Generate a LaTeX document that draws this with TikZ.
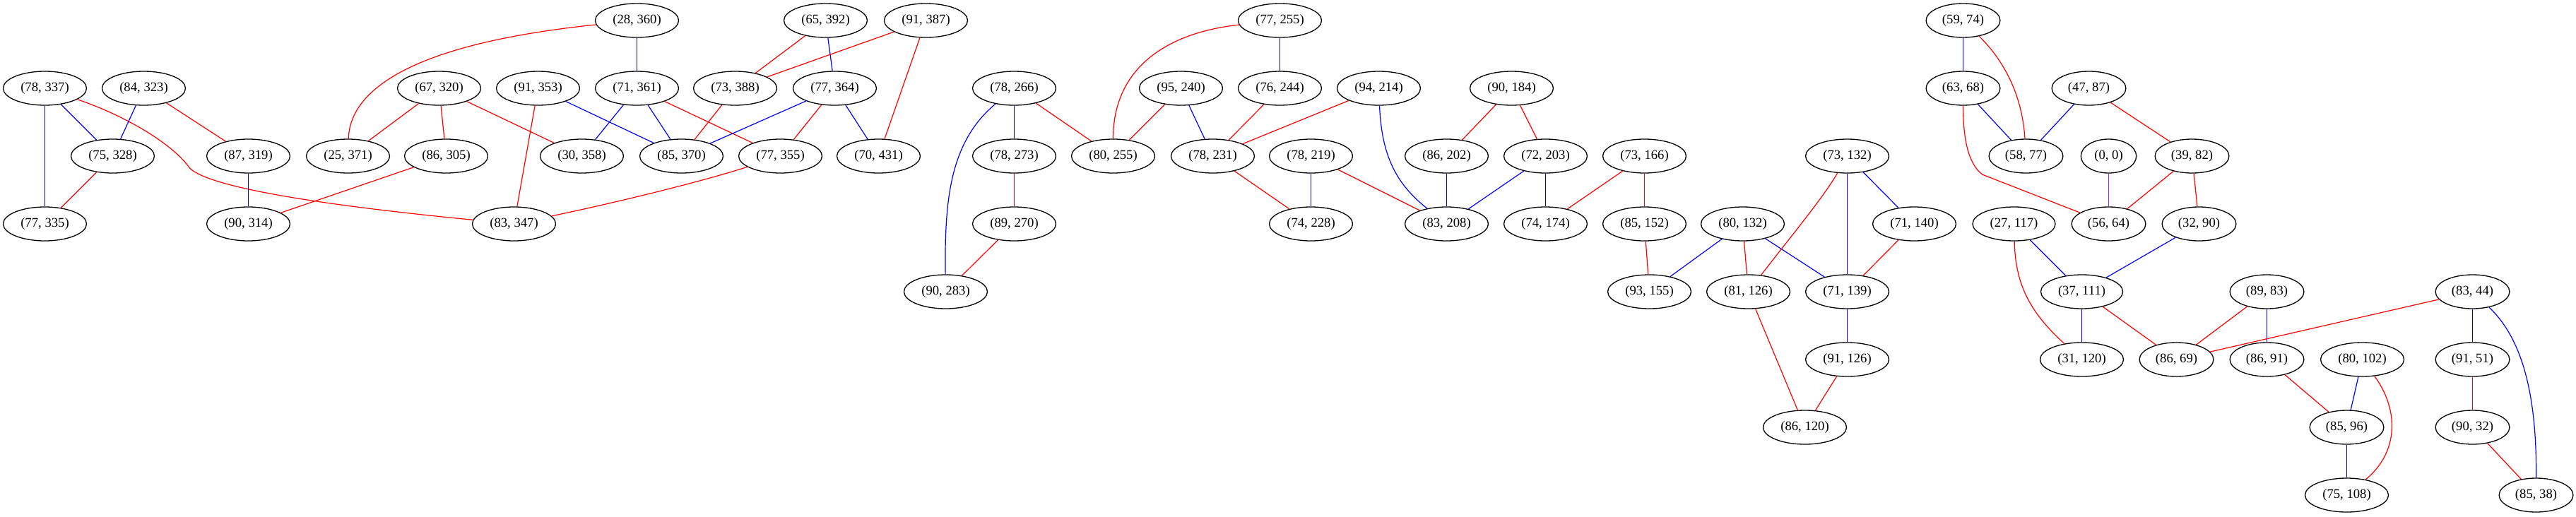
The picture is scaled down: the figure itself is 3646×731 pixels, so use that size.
\documentclass[tikz,border=0pt]{standalone}
\usepackage{fontspec}
\setmainfont{Liberation Serif}
\usetikzlibrary{shapes.geometric}
\definecolor{gvpurple}{RGB}{160,32,240}
\tikzset{
  nd/.style={ellipse, draw, line width=1.3pt, minimum height=48pt, inner xsep=7.5pt, inner ysep=0pt, font=\fontsize{18.67}{22}\selectfont},
  er/.style={draw=red, line width=1.2pt},
  eb/.style={draw=blue, line width=1.2pt},
  ep/.style={draw=gvpurple, line width=1.2pt}
}
\begin{document}
\begin{tikzpicture}[x=1pt,y=-1pt]
\useasboundingbox (0,0) rectangle (3646,731);
\begin{scope}[shift={(0.5,0)}]
% nodes
\node[nd] (n78337) at (63,125) {(78, 337)};
\node[nd] (n84323) at (203,125) {(84, 323)};
\node[nd] (n75328) at (159,221) {(75, 328)};
\node[nd] (n87319) at (351,221) {(87, 319)};
\node[nd] (n25371) at (492,221) {(25, 371)};
\node[nd] (n77335) at (63,317) {(77, 335)};
\node[nd] (n90314) at (351,317) {(90, 314)};
\node[nd] (n28360) at (901,29) {(28, 360)};
\node[nd] (n65392) at (1168,29) {(65, 392)};
\node[nd] (n67320) at (621,125) {(67, 320)};
\node[nd] (n91353) at (761,125) {(91, 353)};
\node[nd] (n71361) at (901,125) {(71, 361)};
\node[nd] (n73388) at (1040,125) {(73, 388)};
\node[nd] (n77364) at (1181,125) {(77, 364)};
\node[nd] (n86305) at (631,221) {(86, 305)};
\node[nd] (n30358) at (823,221) {(30, 358)};
\node[nd] (n85370) at (964,221) {(85, 370)};
\node[nd] (n77355) at (1104,221) {(77, 355)};
\node[nd] (n83347) at (727,317) {(83, 347)};
\node[nd] (n91387) at (1310,29) {(91, 387)};
\node[nd] (n70431) at (1243,221) {(70, 431)};
\node[nd] (n78266) at (1435,125) {(78, 266)};
\node[nd] (n78273) at (1435,221) {(78, 273)};
\node[nd] (n89270) at (1435,317) {(89, 270)};
\node[nd] (n90283) at (1338,413) {(90, 283)};
\node[nd] (n80255) at (1575,221) {(80, 255)};
\node[nd] (n95240) at (1671,125) {(95, 240)};
\node[nd] (n78231) at (1716,221) {(78, 231)};
\node[nd] (n77255) at (1811,29) {(77, 255)};
\node[nd] (n76244) at (1811,125) {(76, 244)};
\node[nd] (n94214) at (1951,125) {(94, 214)};
\node[nd] (n90184) at (2139,125) {(90, 184)};
\node[nd] (n78219) at (1855,221) {(78, 219)};
\node[nd] (n86202) at (2047,221) {(86, 202)};
\node[nd] (n72203) at (2187,221) {(72, 203)};
\node[nd] (n73166) at (2327,221) {(73, 166)};
\node[nd] (n74228) at (1855,317) {(74, 228)};
\node[nd] (n83208) at (2047,317) {(83, 208)};
\node[nd] (n74174) at (2187,317) {(74, 174)};
\node[nd] (n85152) at (2327,317) {(85, 152)};
\node[nd] (n5974) at (2778,29) {(59, 74)};
\node[nd] (n6368) at (2778,125) {(63, 68)};
\node[nd] (n4787) at (2956,125) {(47, 87)};
\node[nd] (n5877) at (2867,221) {(58, 77)};
\node[nd] (n00) at (2984,221) {(0, 0)};
\node[nd] (n73132) at (2614,221) {(73, 132)};
\node[nd] (n80132) at (2466,317) {(80, 132)};
\node[nd] (n71140) at (2709,317) {(71, 140)};
\node[nd] (n27117) at (2850,317) {(27, 117)};
\node[nd] (n5664) at (2984,317) {(56, 64)};
\node[nd] (n3982) at (3102,221) {(39, 82)};
\node[nd] (n3290) at (3112,317) {(32, 90)};
\node[nd] (n93155) at (2334,413) {(93, 155)};
\node[nd] (n81126) at (2474,413) {(81, 126)};
\node[nd] (n71139) at (2614,413) {(71, 139)};
\node[nd] (n37111) at (2946,413) {(37, 111)};
\node[nd] (n91126) at (2614,509) {(91, 126)};
\node[nd] (n31120) at (2946,509) {(31, 120)};
\node[nd] (n86120) at (2554,605) {(86, 120)};
\node[nd] (n8983) at (3208,413) {(89, 83)};
\node[nd] (n8344) at (3499,413) {(83, 44)};
\node[nd] (n8669) at (3080,509) {(86, 69)};
\node[nd] (n8691) at (3208,509) {(86, 91)};
\node[nd] (n80102) at (3343,509) {(80, 102)};
\node[nd] (n9151) at (3499,509) {(91, 51)};
\node[nd] (n8596) at (3321,605) {(85, 96)};
\node[nd] (n9032) at (3499,605) {(90, 32)};
\node[nd] (n75108) at (3321,701) {(75, 108)};
\node[nd] (n8538) at (3589,701) {(85, 38)};
% edges
\draw[eb] (n78337) -- (n75328);
\draw[eb] (n78337) -- (n77335);
\draw[er] (n78337) .. controls (180,165) and (245,205) .. (268,238) .. controls (295,265) and (450,290) .. (n83347);
\draw[eb] (n84323) -- (n75328);
\draw[er] (n84323) -- (n87319);
\draw[er] (n75328) -- (n77335);
\draw[eb] (n87319) -- (n90314);
\draw[er] (n86305) -- (n90314);
\draw[er] (n67320) -- (n25371);
\draw[er] (n28360) .. controls (600,60) and (495,120) .. (n25371);
\draw[er] (n67320) -- (n86305);
\draw[er] (n67320) -- (n30358);
\draw[eb] (n91353) -- (n85370);
\draw[er] (n91353) -- (n83347);
\draw[eb] (n28360) -- (n71361);
\draw[eb] (n71361) -- (n30358);
\draw[eb] (n71361) -- (n85370);
\draw[er] (n71361) -- (n77355);
\draw[er] (n73388) -- (n85370);
\draw[er] (n65392) -- (n73388);
\draw[eb] (n65392) -- (n77364);
\draw[er] (n91387) -- (n73388);
\draw[eb] (n77364) -- (n85370);
\draw[er] (n77364) -- (n77355);
\draw[eb] (n77364) -- (n70431);
\draw[er] (n91387) -- (n70431);
\draw[er] (n77355) .. controls (1000,255) and (880,285) .. (n83347);
\draw[eb] (n78266) -- (n78273);
\draw[er] (n78266) -- (n80255);
\draw[eb] (n78266) .. controls (1345,200) and (1336,280) .. (n90283);
\draw[er] (n78273) -- (n89270);
\draw[er] (n89270) -- (n90283);
\draw[er] (n77255) .. controls (1660,45) and (1575,90) .. (n80255);
\draw[er] (n95240) -- (n80255);
\draw[eb] (n95240) -- (n78231);
\draw[eb] (n77255) -- (n76244);
\draw[er] (n76244) -- (n78231);
\draw[er] (n94214) -- (n78231);
\draw[er] (n78231) -- (n74228);
\draw[eb] (n94214) .. controls (1955,220) and (1975,260) .. (n83208);
\draw[eb] (n78219) -- (n74228);
\draw[er] (n78219) -- (n83208);
\draw[er] (n90184) -- (n86202);
\draw[er] (n90184) -- (n72203);
\draw[eb] (n86202) -- (n83208);
\draw[eb] (n72203) -- (n83208);
\draw[eb] (n72203) -- (n74174);
\draw[er] (n73166) -- (n74174);
\draw[er] (n73166) -- (n85152);
\draw[er] (n85152) -- (n93155);
\draw[eb] (n80132) -- (n93155);
\draw[er] (n80132) -- (n81126);
\draw[eb] (n80132) -- (n71139);
\draw[er] (n73132) .. controls (2580,280) and (2530,340) .. (n81126);
\draw[eb] (n73132) -- (n71139);
\draw[eb] (n73132) -- (n71140);
\draw[er] (n71140) -- (n71139);
\draw[eb] (n71139) -- (n91126);
\draw[er] (n81126) -- (n86120);
\draw[er] (n91126) -- (n86120);
\draw[eb] (n5974) -- (n6368);
\draw[er] (n5974) .. controls (2840,90) and (2862,140) .. (n5877);
\draw[eb] (n6368) -- (n5877);
\draw[er] (n6368) .. controls (2778,210) and (2790,235) .. (2805,247) -- (n5664);
\draw[eb] (n4787) -- (n5877);
\draw[er] (n4787) -- (n3982);
\draw[ep] (n00) -- (n5664);
\draw[er] (n3982) -- (n5664);
\draw[er] (n3982) -- (n3290);
\draw[eb] (n3290) -- (n37111);
\draw[eb] (n27117) -- (n37111);
\draw[er] (n27117) .. controls (2852,400) and (2870,440) .. (n31120);
\draw[eb] (n37111) -- (n31120);
\draw[er] (n37111) -- (n8669);
\draw[er] (n8983) -- (n8669);
\draw[eb] (n8983) -- (n8691);
\draw[er] (n8344) -- (n8669);
\draw[eb] (n8344) -- (n9151);
\draw[eb] (n8344) .. controls (3570,480) and (3590,560) .. (n8538);
\draw[er] (n8691) -- (n8596);
\draw[eb] (n80102) -- (n8596);
\draw[er] (n80102) .. controls (3395,580) and (3395,640) .. (n75108);
\draw[eb] (n8596) -- (n75108);
\draw[er] (n9151) -- (n9032);
\draw[er] (n9032) -- (n8538);
\end{scope}
\end{tikzpicture}
\end{document}
